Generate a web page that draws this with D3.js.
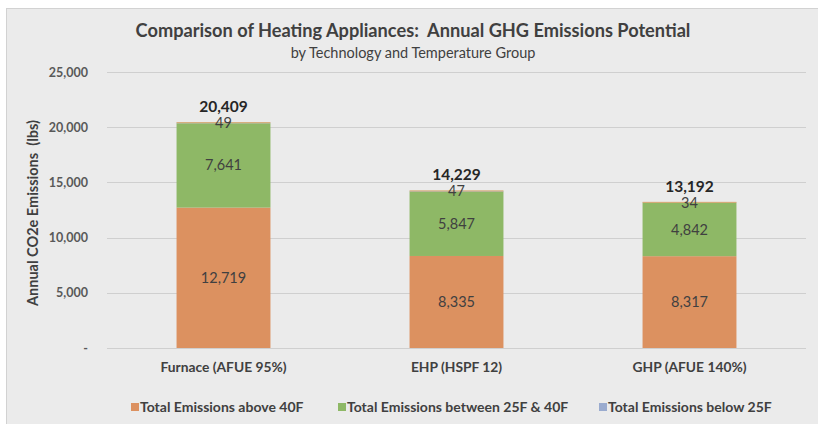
<!DOCTYPE html>
<html>
<head>
<meta charset="utf-8">
<script src="https://cdn.jsdelivr.net/npm/d3@7"></script>
<style>
html,body{margin:0;padding:0;background:#fff;}
svg{display:block;font-family:Lato,"Open Sans",sans-serif;}
</style>
</head>
<body>
<svg id="chart" width="818" height="424"></svg>
<script>
const categories = ["Furnace (AFUE 95%)", "EHP (HSPF 12)", "GHP (AFUE 140%)"];
const seriesNames = ["Total Emissions above 40F", "Total Emissions between 25F & 40F", "Total Emissions below 25F"];
const above40 = [12719, 8335, 8317];
const between25and40 = [7641, 5847, 4842];
const below25 = [49, 47, 34];
const totals = [20409, 14229, 13192];
const yTicks = [0, 5000, 10000, 15000, 20000, 25000];
const colors = ["#dc9160", "#8eb866", "#9aabcf"];

const svg = d3.select("#chart");
svg.append("rect").attr("x", 6.5).attr("y", 8.5).attr("width", 830).attr("height", 430)
  .attr("fill", "#ebebeb").attr("stroke", "#d2d2d2").attr("stroke-width", 1);

const plot = {left: 107, right: 806, top: 72, bottom: 348};
const x = d3.scaleBand().domain(categories).range([plot.left, plot.right])
  .paddingInner(0.597).paddingOuter(0.2985);
const y = d3.scaleLinear().domain([0, 25000]).range([plot.bottom, plot.top]);

svg.append("g").selectAll("line").data(yTicks).join("line")
  .attr("x1", plot.left).attr("x2", plot.right)
  .attr("y1", d => Math.round(y(d)) + 0.5).attr("y2", d => Math.round(y(d)) + 0.5)
  .attr("stroke", "#cfcfcf").attr("stroke-width", 1);

const yAxis = d3.axisLeft(y).tickValues(yTicks).tickSize(0).tickPadding(0)
  .tickFormat(d => d === 0 ? "-" : d3.format(",")(d));
const ya = svg.append("g").attr("transform", `translate(${plot.left - 19},0)`).call(yAxis);
ya.select(".domain").remove();
ya.selectAll("text").attr("font-family", "Lato, sans-serif").attr("font-size", 12.5)
  .attr("font-weight", 700).attr("fill", "#595959");

const rows = categories.map((c, i) => ({cat: c, s0: above40[i], s1: between25and40[i], s2: below25[i]}));
const stack = d3.stack().keys(["s0", "s1", "s2"])(rows);

const layers = svg.append("g").selectAll("g").data(stack).join("g").attr("fill", (d, i) => colors[i]);
layers.selectAll("rect").data(d => d).join("rect")
  .attr("x", d => x(d.data.cat)).attr("width", x.bandwidth())
  .attr("y", d => y(d[1])).attr("height", d => y(d[0]) - y(d[1]));

svg.append("g").selectAll("line").data(rows).join("line")
  .attr("x1", d => x(d.cat)).attr("x2", d => x(d.cat) + x.bandwidth())
  .attr("y1", d => y(d.s0 + d.s1 + d.s2)).attr("y2", d => y(d.s0 + d.s1 + d.s2))
  .attr("stroke", "#d9a66a").attr("stroke-width", 1);

const lbl = svg.append("g");
stack.forEach(layer => {
  lbl.selectAll(null).data(layer).join("text")
    .attr("x", d => x(d.data.cat) + x.bandwidth() / 2)
    .attr("y", d => (y(d[0]) + y(d[1])) / 2)
    .attr("dy", "0.35em").attr("text-anchor", "middle")
    .attr("font-size", 14.5).attr("fill", "#404040")
    .text(d => d3.format(",")(d[1] - d[0]));
});

svg.append("g").selectAll("text").data(rows).join("text")
  .attr("x", d => x(d.cat) + x.bandwidth() / 2)
  .attr("y", (d, i) => y(d.s0 + d.s1 + d.s2) - 16)
  .attr("dy", "0.35em").attr("text-anchor", "middle")
  .attr("font-size", 15.5).attr("font-weight", 700).attr("fill", "#262626")
  .text((d, i) => d3.format(",")(totals[i]));

const xAxis = d3.axisBottom(x).tickSize(0).tickPadding(0);
const xa = svg.append("g").attr("transform", `translate(0,${plot.bottom + 14})`).call(xAxis);
xa.select(".domain").remove();
xa.selectAll("text").attr("font-family", "Lato, sans-serif").attr("font-size", 13.8)
  .attr("font-weight", 700).attr("fill", "#404040");

svg.append("text").attr("transform", "translate(33,213) rotate(-90)")
  .attr("text-anchor", "middle").attr("dy", "0.35em")
  .attr("font-size", 14.5).attr("font-weight", 700).attr("fill", "#404040")
  .attr("xml:space", "preserve")
  .text("Annual CO2e Emissions  (lbs)");

svg.append("text").attr("x", 413).attr("y", 37).attr("text-anchor", "middle")
  .attr("font-size", 18.2).attr("font-weight", 700).attr("fill", "#404040")
  .attr("xml:space", "preserve")
  .text("Comparison of Heating Appliances:  Annual GHG Emissions Potential");
svg.append("text").attr("x", 413).attr("y", 58).attr("text-anchor", "middle")
  .attr("font-size", 14.5).attr("fill", "#404040")
  .text("by Technology and Temperature Group");

const legX = [131, 338, 599];
const leg = svg.append("g").selectAll("g").data(seriesNames).join("g")
  .attr("transform", (d, i) => `translate(${legX[i]},407)`);
leg.append("rect").attr("x", 0).attr("y", -4).attr("width", 8).attr("height", 8)
  .attr("fill", (d, i) => colors[i]);
leg.append("text").attr("x", 9).attr("dy", "0.35em")
  .attr("font-size", 14).attr("font-weight", 700).attr("fill", "#404040")
  .text(d => d);
</script>
</body>
</html>
